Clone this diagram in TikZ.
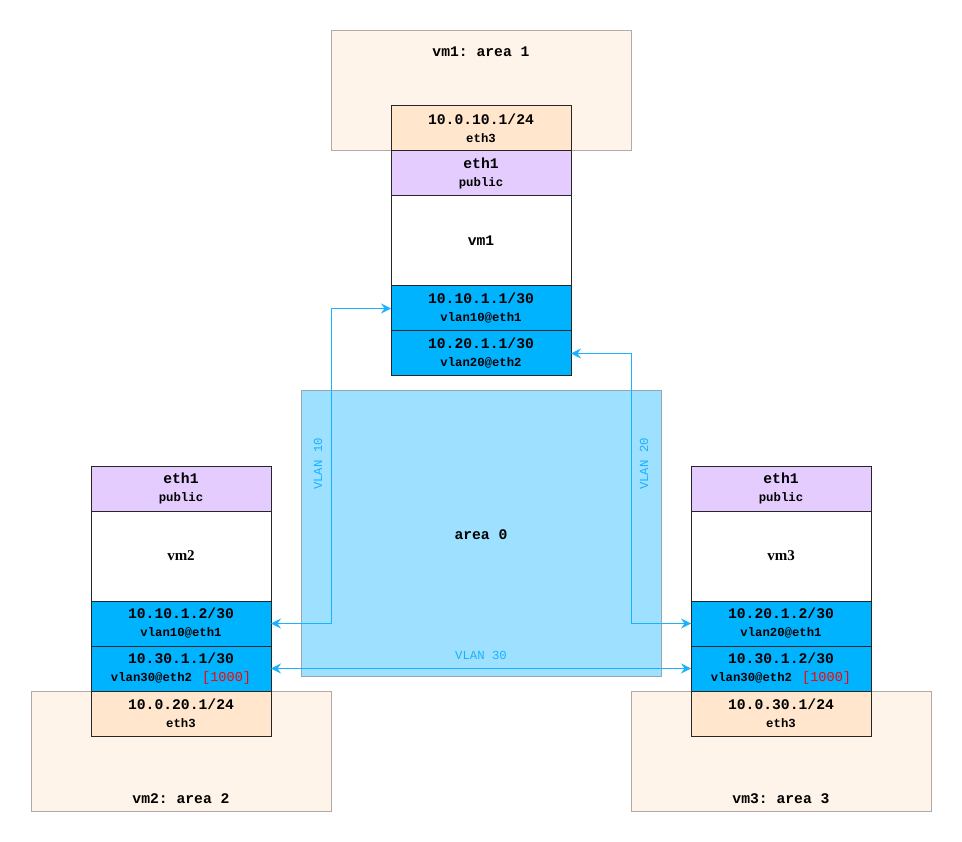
\documentclass[tikz,border=0pt]{standalone}
\usepackage{fontspec}
\setmainfont{Liberation Serif}
\setmonofont{Liberation Mono}
\usetikzlibrary{positioning,arrows.meta}

\definecolor{areafill}{HTML}{FFF4E9}
\definecolor{areadraw}{HTML}{B3AAA6}
\definecolor{zerofill}{HTML}{9DE0FF}
\definecolor{zerodraw}{HTML}{99A6AE}
\definecolor{ethfill}{HTML}{FFE6CC}
\definecolor{pubfill}{HTML}{E5CCFF}
\definecolor{vlanfill}{HTML}{00B3FF}
\definecolor{linkblue}{HTML}{1AB2FF}
\definecolor{mtured}{HTML}{FF0000}

\newcommand{\bigmono}{\ttfamily\bfseries\fontsize{14.7}{18}\selectfont}
\newcommand{\smallmono}{\ttfamily\bfseries\fontsize{12.3}{18}\selectfont}
\newcommand{\mtu}{\hspace{10pt}\textcolor{mtured}{\mdseries\fontsize{13.6}{18}\selectfont [1000]}}

\tikzset{
  row/.style={draw=black!85, line width=1pt, minimum width=180pt, minimum height=45pt,
    inner sep=0pt, outer sep=0pt, align=center, font=\bigmono},
  ethrow/.style={row, fill=ethfill},
  pubrow/.style={row, fill=pubfill},
  vlanrow/.style={row, fill=vlanfill},
  vmbody/.style={row, fill=white, minimum height=90pt},
  areabox/.style={draw=areadraw, fill=areafill, line width=1pt, minimum width=300pt,
    minimum height=120pt, inner sep=0pt, outer sep=0pt},
  zerobox/.style={draw=zerodraw, fill=zerofill, line width=1pt, minimum width=360pt,
    minimum height=285pt, inner sep=0pt, outer sep=0pt},
  areatitle/.style={font=\bigmono, anchor=base, inner sep=0pt},
  link/.style={draw=linkblue, line width=1pt, {Stealth[length=10pt,width=10pt,inset=3.5pt]}-{Stealth[length=10pt,width=10pt,inset=3.5pt]}},
  vlanlabel/.style={text=linkblue, font=\ttfamily\fontsize{12.3}{14}\selectfont, inner sep=0pt}
}

\begin{document}
\begin{tikzpicture}[x=1pt,y=-1pt]
	\useasboundingbox (0,0) rectangle (962,842);

	\node[areabox] (areaone) at (481,91) {};
	\node[areabox] (areatwo) at (181,751) {};
	\node[areabox] (areathree) at (781,751) {};
	\node[zerobox] (areazero) at (481,533.5) {};

	\node[areatitle] (areaonetitle) at (481,57) {vm1: area 1};
	\node[areatitle] (areatwotitle) at (181,803) {vm2: area 2};
	\node[areatitle] (areathreetitle) at (781,803) {vm3: area 3};
	\node[areatitle] (areazerotitle) at (481,539) {area 0};

	\node[ethrow] (vmoneeth) at (481,128.5) {10.0.10.1/24\\{\smallmono eth3}};
	\node[pubrow, below=0pt of vmoneeth] (vmonepub) {eth1\\{\smallmono public}};
	\node[vmbody, below=0pt of vmonepub] (vmone) {vm1};
	\node[vlanrow, below=0pt of vmone] (vmonevlanA) {10.10.1.1/30\\{\smallmono vlan10@eth1}};
	\node[vlanrow, below=0pt of vmonevlanA] (vmonevlanB) {10.20.1.1/30\\{\smallmono vlan20@eth2}};

	\node[pubrow] (vmtwopub) at (181,488.5) {eth1\\{\smallmono public}};
	\node[vmbody, below=0pt of vmtwopub, font=\rmfamily\bfseries\fontsize{15}{16}\selectfont] (vmtwo) {vm2};
	\node[vlanrow, below=0pt of vmtwo] (vmtwovlanA) {10.10.1.2/30\\{\smallmono vlan10@eth1}};
	\node[vlanrow, below=0pt of vmtwovlanA] (vmtwovlanB) {10.30.1.1/30\\{\smallmono vlan30@eth2\mtu}};
	\node[ethrow, below=0pt of vmtwovlanB] (vmtwoeth) {10.0.20.1/24\\{\smallmono eth3}};

	\node[pubrow] (vmthreepub) at (781,488.5) {eth1\\{\smallmono public}};
	\node[vmbody, below=0pt of vmthreepub, font=\rmfamily\bfseries\fontsize{15}{16}\selectfont] (vmthree) {vm3};
	\node[vlanrow, below=0pt of vmthree] (vmthreevlanA) {10.20.1.2/30\\{\smallmono vlan20@eth1}};
	\node[vlanrow, below=0pt of vmthreevlanA] (vmthreevlanB) {10.30.1.2/30\\{\smallmono vlan30@eth2\mtu}};
	\node[ethrow, below=0pt of vmthreevlanB] (vmthreeeth) {10.0.30.1/24\\{\smallmono eth3}};

	\draw[link] (vmtwovlanA.east) -- ++(60,0) |- (vmonevlanA.west);
	\draw[link] (vmonevlanB.east) -- ++(60,0) |- (vmthreevlanA.west);
	\draw[link] (vmtwovlanB.east) -- (vmthreevlanB.west);

	\node[vlanlabel, rotate=90] (vlanten) at (318,464) {VLAN 10};
	\node[vlanlabel, rotate=90] (vlantwenty) at (644,464) {VLAN 20};
	\node[vlanlabel, anchor=base] (vlanthirty) at (481,659) {VLAN 30};
\end{tikzpicture}
\end{document}
